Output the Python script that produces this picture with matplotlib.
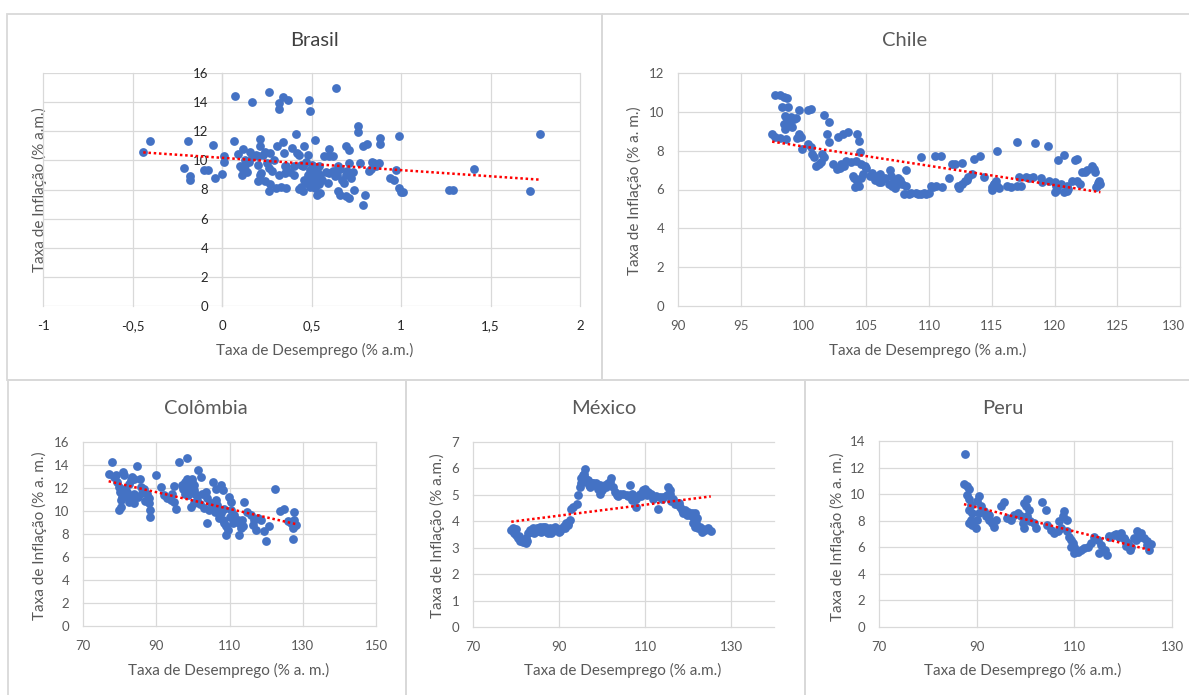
import numpy as np
import matplotlib
matplotlib.use('Agg')
from matplotlib import pyplot as plt
from matplotlib import transforms
from matplotlib.patches import Rectangle
from matplotlib.ticker import FuncFormatter

plt.rcParams['font.family'] = ['Lato', 'DejaVu Sans']

W, H = 1189, 695

# (desemprego, inflacao)
brasil = [(-0.44, 10.57), (-0.40, 11.3), (-0.21, 9.47), (-0.19, 11.3), (-0.18, 8.9), (-0.18, 8.67),
          (-0.10, 9.36), (-0.08, 9.36), (-0.05, 11.03), (-0.04, 8.78), (0.00, 9.08), (0.01, 10.28),
          (0.01, 9.86), (0.065, 11.3), (0.07, 14.45), (0.09, 10.44), (0.11, 9.47), (0.11, 9.0),
          (0.12, 10.8), (0.13, 10.05), (0.13, 9.7), (0.13, 9.36), (0.155, 10.6), (0.17, 14.0),
          (0.19, 10.4), (0.20, 10.3), (0.20, 9.7), (0.21, 11.5), (0.21, 10.96), (0.21, 9.0),
          (0.22, 9.1), (0.20, 8.6), (0.24, 8.55), (0.24, 10.6), (0.26, 14.7), (0.26, 9.47),
          (0.26, 7.87), (0.27, 10.5), (0.30, 8.1), (0.31, 10.96), (0.32, 13.95), (0.32, 13.53),
          (0.32, 9.0), (0.33, 8.2), (0.34, 11.24), (0.34, 14.35), (0.345, 10.5), (0.35, 9.63),
          (0.35, 9.13), (0.37, 14.17), (0.39, 10.85), (0.40, 8.97), (0.415, 11.83), (0.42, 10.5),
          (0.43, 10.4), (0.43, 8.03), (0.45, 9.59), (0.45, 7.87), (0.46, 10.96), (0.46, 8.67),
          (0.47, 8.44), (0.48, 10.4), (0.485, 14.17), (0.49, 13.37), (0.49, 9.36), (0.50, 9.1),
          (0.50, 8.67), (0.51, 8.3), (0.49, 8.2), (0.51, 9.0), (0.52, 8.5), (0.53, 8.8),
          (0.52, 11.42), (0.53, 7.64), (0.55, 7.75), (0.54, 9.59), (0.56, 8.67), (0.57, 10.28),
          (0.59, 8.44), (0.60, 10.78), (0.60, 10.28), (0.60, 9.13), (0.635, 14.98), (0.64, 9.0),
          (0.65, 9.59), (0.65, 7.87), (0.66, 7.64), (0.67, 8.67), (0.68, 8.44), (0.69, 7.52),
          (0.69, 10.96), (0.695, 9.0), (0.70, 9.25), (0.71, 10.73), (0.71, 7.4), (0.71, 9.8),
          (0.74, 8.0), (0.76, 12.34), (0.76, 11.93), (0.77, 9.8), (0.79, 11.0), (0.79, 6.95),
          (0.80, 7.64), (0.81, 11.15), (0.82, 9.25), (0.85, 9.8), (0.86, 9.59), (0.875, 9.8),
          (0.88, 11.54), (0.88, 11.15), (0.94, 8.78), (0.96, 8.67), (0.97, 9.36), (0.99, 11.65),
          (0.99, 8.1), (1.00, 7.8), (1.01, 7.8), (1.27, 8.0), (1.29, 8.0), (1.41, 9.43),
          (1.72, 7.9), (1.775, 11.83), (0.15, 9.9), (0.17, 10.2), (0.23, 10.4), (0.25, 9.8),
          (0.28, 9.3), (0.29, 10.0), (0.36, 9.6), (0.38, 9.2), (0.44, 9.7), (0.47, 9.9),
          (0.50, 9.7), (0.53, 9.3), (0.55, 9.0), (0.58, 9.2), (0.62, 9.3), (0.63, 8.9),
          (0.66, 9.4), (0.72, 8.8), (0.73, 9.2), (0.62, 10.3), (0.10, 9.6), (0.14, 9.2),
          (0.27, 8.4), (0.36, 8.1), (0.40, 9.6), (0.44, 8.2), (0.48, 9.0), (0.52, 8.1),
          (0.54, 8.4), (0.83, 9.4), (0.84, 9.9)]

chile = [(97.75, 10.87), (98.15, 10.87), (98.43, 10.78), (98.7, 10.7), (98.3, 10.27), (98.8, 10.27),
         (99.64, 10.1), (100.37, 10.1), (100.6, 10.15), (98.56, 9.8), (98.97, 9.72), (99.24, 9.63),
         (98.7, 9.55), (98.43, 9.37), (98.97, 9.29), (98.56, 9.12), (99.1, 9.2), (99.37, 9.68),
         (97.5, 8.86), (97.75, 8.69), (98.15, 8.64), (98.64, 8.6), (99.64, 8.86), (99.78, 8.69),
         (99.5, 8.64), (99.9, 8.08), (100.37, 8.34), (100.6, 8.17), (101.67, 9.85), (102.07, 9.46),
         (101.9, 8.86), (102.07, 8.43), (100.7, 7.83), (100.85, 7.66), (101.5, 7.83), (101.6, 7.66),
         (101.0, 7.23), (101.26, 7.31), (101.4, 7.4), (102.34, 7.31), (102.7, 7.06), (102.75, 8.69),
         (103.15, 8.86), (103.56, 8.94), (104.23, 8.86), (104.4, 8.52), (104.5, 7.91), (103.0, 7.31),
         (103.4, 7.48), (103.8, 7.4), (104.2, 7.45), (104.6, 7.31), (104.9, 7.23), (103.96, 6.71),
         (104.23, 6.45), (104.1, 6.11), (104.77, 6.8), (105.45, 6.83), (105.85, 6.71), (106.1, 6.8),
         (106.25, 6.54), (106.0, 6.37), (106.93, 7.0), (107.0, 6.71), (107.2, 6.45), (107.07, 6.2),
         (107.55, 6.28), (107.87, 6.28), (108.14, 7.0), (108.0, 5.77), (108.41, 5.77), (108.95, 5.8),
         (109.35, 5.77), (109.76, 5.77), (109.38, 7.66), (110.17, 6.2), (110.57, 6.2), (110.5, 7.7),
         (110.98, 7.7), (111.6, 6.57), (111.8, 7.31), (112.06, 7.31), (112.6, 7.37), (112.33, 6.2),
         (112.6, 6.28), (112.87, 6.45), (113.14, 6.63), (113.4, 6.8), (113.6, 7.57), (114.03, 7.74),
         (114.35, 6.66), (115.38, 8.0), (115.03, 6.11), (115.16, 6.28), (115.43, 6.2), (115.3, 6.45),
         (116.24, 6.16), (117.0, 6.16), (117.05, 8.46), (117.19, 6.66), (117.7, 6.63), (118.27, 6.66),
         (118.94, 6.57), (118.45, 8.38), (119.48, 8.26), (119.6, 6.45), (120.0, 6.37), (120.15, 6.2),
         (120.0, 5.85), (120.24, 7.52), (120.78, 7.79), (120.78, 5.85), (120.96, 5.94), (121.1, 6.03),
         (121.64, 7.52), (121.78, 7.57), (121.37, 6.45), (121.78, 6.45), (122.18, 6.88), (122.58, 7.0),
         (122.99, 7.23), (123.26, 6.88), (123.12, 7.06), (123.4, 6.2), (123.53, 6.45), (123.66, 6.28),
         (123.3, 6.14), (104.0, 6.6), (105.0, 7.1), (106.0, 6.6), (107.5, 6.6), (115.0, 6.0),
         (103.2, 7.2), (102.9, 7.1), (105.3, 6.7), (105.7, 6.5), (106.2, 6.4), (106.5, 6.6),
         (106.8, 6.3), (107.3, 6.1), (107.7, 6.5), (108.2, 6.2), (104.4, 6.2), (104.6, 6.6),
         (115.2, 6.3), (115.6, 6.1), (117.3, 6.2), (120.2, 6.0), (120.5, 6.3), (121.0, 6.2),
         (122.0, 6.3), (119.0, 6.4), (112.4, 6.1), (113.0, 6.5), (108.6, 5.8), (109.1, 5.75),
         (109.6, 5.8), (110.0, 5.8), (110.3, 6.15), (111.0, 6.15), (116.5, 6.15), (118.0, 6.6),
         (123.5, 6.35), (122.4, 6.9)]

colombia = [(77.0, 13.23), (77.9, 14.29), (78.4, 12.94), (78.9, 13.09), (79.3, 12.51), (79.8, 12.09),
            (80.2, 11.66), (80.7, 11.23), (79.8, 10.09), (80.4, 10.37), (80.9, 13.37), (81.1, 13.09),
            (81.6, 11.94), (82.1, 11.66), (82.5, 12.37), (83.0, 12.66), (83.4, 12.94), (83.0, 10.94),
            (83.4, 11.09), (83.9, 11.51), (83.9, 12.8), (84.8, 13.94), (85.5, 12.8), (85.7, 12.09),
            (86.6, 11.94), (87.5, 11.51), (88.0, 11.09), (88.0, 10.66), (88.4, 10.09), (88.4, 9.51),
            (89.8, 13.14), (91.2, 12.09), (92.1, 11.37), (93.0, 11.09), (93.9, 10.94), (94.8, 10.8),
            (95.3, 10.14), (94.8, 12.14), (94.4, 11.51), (96.2, 14.23), (98.5, 14.6), (97.0, 12.3),
            (97.9, 12.5), (98.8, 12.6), (99.7, 12.5), (100.2, 12.3), (97.4, 11.9), (98.3, 12.1),
            (99.2, 11.9), (100.2, 11.8), (97.9, 11.5), (98.8, 11.4), (99.7, 11.7), (100.6, 11.5),
            (98.3, 12.8), (99.7, 12.8), (99.4, 10.37), (100.3, 10.66), (101.4, 13.57), (102.1, 12.94),
            (102.6, 11.51), (103.5, 11.66), (103.97, 11.09), (104.9, 10.66), (104.4, 10.09), (105.6, 12.51),
            (106.3, 11.94), (107.6, 12.23), (108.1, 11.8), (106.3, 10.94), (106.7, 10.51), (107.2, 10.09),
            (107.6, 9.8), (107.2, 9.37), (108.1, 9.23), (108.5, 8.94), (109.0, 8.66), (109.5, 8.37),
            (109.0, 7.94), (109.9, 11.23), (110.4, 10.8), (110.4, 10.09), (111.3, 9.66), (112.2, 9.23),
            (112.6, 8.94), (113.1, 8.51), (113.6, 8.66), (112.6, 7.94), (114.0, 10.8), (114.9, 9.94),
            (115.8, 9.66), (116.8, 9.23), (116.3, 8.8), (117.2, 8.37), (117.7, 9.37), (118.6, 9.23),
            (119.5, 8.23), (120.1, 7.37), (120.9, 8.71), (122.5, 11.89), (123.9, 10.03), (125.0, 10.14),
            (125.9, 9.09), (126.8, 8.94), (127.7, 9.23), (127.5, 9.94), (127.3, 8.51), (127.3, 7.57),
            (128.2, 8.8), (101.0, 11.0), (102.0, 10.6), (103.0, 10.3), (105.5, 10.4), (106.0, 9.9),
            (103.9, 9.0), (111.0, 9.0), (113.5, 9.2), (110.0, 9.5), (108.5, 10.2), (80.5, 11.0),
            (81.5, 11.4), (82.5, 10.8), (84.0, 10.7), (85.0, 11.2), (86.0, 11.6), (87.0, 10.9),
            (83.5, 11.3), (82.0, 11.2)]

mexico = [(78.9, 3.67), (79.3, 3.73), (79.7, 3.6), (80.1, 3.48), (80.5, 3.35), (81.0, 3.27),
          (81.6, 3.2), (82.3, 3.17), (82.4, 3.35), (82.8, 3.54), (83.2, 3.67), (84.0, 3.73),
          (84.8, 3.76), (85.5, 3.79), (85.9, 3.6), (86.3, 3.79), (87.1, 3.6), (87.9, 3.67),
          (88.2, 3.54), (88.8, 3.76), (89.4, 3.67), (90.0, 3.6), (90.6, 3.73), (91.1, 3.83),
          (91.7, 3.92), (92.5, 4.05), (92.9, 4.48), (93.3, 4.55), (94.1, 4.67), (94.5, 4.99),
          (94.8, 5.3), (95.2, 5.62), (95.2, 5.43), (95.6, 5.74), (96.0, 5.99), (96.0, 5.62),
          (96.4, 5.49), (97.0, 5.36), (97.6, 5.43), (98.3, 5.36), (98.7, 5.43), (99.1, 5.24),
          (99.5, 5.05), (99.5, 5.36), (99.9, 5.3), (100.7, 5.36), (101.4, 5.43), (102.2, 5.62),
          (101.8, 5.49), (102.6, 5.3), (103.0, 5.11), (103.4, 4.99), (104.2, 5.05), (104.9, 5.05),
          (105.7, 4.99), (106.5, 5.36), (106.9, 4.8), (107.3, 4.99), (107.9, 4.55), (108.0, 4.86),
          (108.8, 5.05), (109.6, 5.17), (110.0, 5.24), (110.4, 4.99), (110.8, 5.11), (111.5, 5.05),
          (111.9, 4.86), (113.1, 4.48), (113.5, 4.92), (114.3, 4.92), (115.0, 4.99), (115.4, 5.3),
          (115.7, 5.17), (115.8, 5.05), (116.4, 4.86), (117.0, 4.67), (117.5, 4.67), (118.1, 4.55),
          (118.5, 4.42), (118.9, 4.3), (119.3, 4.42), (119.7, 4.23), (120.1, 4.36), (120.5, 4.23),
          (120.9, 4.3), (121.2, 4.17), (121.6, 4.3), (122.0, 4.11), (121.2, 3.92), (121.6, 3.79),
          (122.4, 3.73), (123.2, 3.6), (124.0, 3.67), (124.7, 3.73), (125.3, 3.63), (97.2, 5.3),
          (98.0, 5.45), (99.0, 5.35), (100.0, 5.2), (101.0, 5.3), (103.8, 4.95), (106.0, 4.95),
          (107.0, 5.05), (109.0, 4.95), (112.5, 4.95), (114.0, 4.85), (116.0, 4.75), (96.8, 5.55),
          (95.8, 5.8), (117.8, 4.7), (79.5, 3.55), (80.0, 3.7), (80.8, 3.45), (81.3, 3.3),
          (81.9, 3.25), (82.6, 3.25), (83.5, 3.6), (84.4, 3.7), (85.1, 3.65), (86.0, 3.72),
          (86.7, 3.68), (87.5, 3.55), (88.5, 3.62), (89.0, 3.78), (89.8, 3.72), (90.3, 3.65),
          (91.4, 3.75), (92.0, 3.85), (92.2, 3.95), (84.2, 3.55), (86.8, 3.8), (88.0, 3.75),
          (122.8, 3.8), (123.6, 3.7), (121.9, 3.95)]

peru = [(87.7, 13.0), (87.4, 10.73), (88.1, 10.6), (88.4, 10.35), (88.1, 9.97), (88.4, 9.6),
        (88.8, 9.22), (88.4, 8.84), (89.1, 8.58), (88.8, 8.08), (88.4, 7.82), (89.1, 7.7),
        (89.8, 7.44), (90.1, 8.08), (90.5, 8.58), (90.5, 9.85), (90.1, 9.47), (90.8, 9.09),
        (91.5, 8.71), (91.85, 8.33), (92.5, 8.08), (93.2, 7.82), (93.6, 7.52), (92.5, 8.46),
        (93.9, 8.08), (94.9, 9.09), (95.5, 9.39), (96.3, 8.2), (97.0, 8.08), (97.7, 8.46),
        (98.4, 8.58), (99.0, 8.33), (99.4, 7.82), (99.7, 7.44), (99.7, 9.34), (100.4, 9.6),
        (100.1, 9.09), (100.75, 8.84), (100.4, 8.33), (100.96, 7.95), (101.8, 7.82), (102.1, 7.44),
        (103.3, 9.39), (104.2, 8.84), (104.5, 7.7), (105.2, 7.32), (105.9, 7.06), (106.6, 7.19),
        (107.3, 7.44), (106.9, 7.95), (107.6, 8.33), (107.9, 8.71), (108.6, 8.08), (108.6, 7.19),
        (109.0, 6.81), (109.3, 6.56), (109.7, 6.3), (110.0, 6.05), (110.4, 5.8), (110.75, 5.67),
        (109.3, 6.05), (110.0, 5.54), (111.4, 5.8), (112.05, 5.92), (112.7, 6.05), (113.4, 6.3),
        (114.0, 6.81), (114.8, 6.56), (115.5, 6.18), (116.2, 5.8), (116.6, 5.42), (117.2, 6.81),
        (118.2, 6.94), (119.2, 6.81), (120.3, 6.56), (121.0, 6.3), (121.6, 6.05), (122.7, 6.56),
        (123.4, 6.81), (117.1, 6.87), (118.5, 6.99), (119.5, 7.07), (120.2, 6.69), (120.5, 6.07),
        (121.5, 5.81), (122.2, 6.69), (122.9, 7.19), (123.6, 7.07), (124.2, 6.69), (124.9, 6.19),
        (125.3, 5.81), (125.6, 6.24), (124.9, 6.44), (115.0, 5.6), (116.0, 5.7)]

fig = plt.figure(figsize=(W / 100, H / 100), dpi=100)

# background layer in pixel coords: panel frames and texts
bg = fig.add_axes([0, 0, 1, 1])
bg.set_xlim(0, W)
bg.set_ylim(H, 0)
bg.axis('off')
for x0, y0, x1, y1 in [(7, 14, 602, 380), (602, 14, 1192, 380),
                       (8, 380, 406, 700), (406, 380, 805, 700), (805, 380, 1192, 700)]:
    bg.add_patch(Rectangle((x0, y0), x1 - x0, y1 - y0, fill=False, ec='#D9D9D9', lw=1.3))

grey = '#595959'
titles = [('Brasil', 315, 40, '#404040'), ('Chile', 905, 40, grey), ('Colômbia', 206, 409, grey),
          ('México', 604, 409, grey), ('Peru', 1003, 409, grey)]
for t, x, y, c in titles:
    bg.text(x, y, t, ha='center', va='center', fontsize=14.5, color=c)

xlabels = [('Taxa de Desemprego (% a.m.)', 315, 350), ('Taxa de Desemprego (% a.m.)', 928, 350),
           ('Taxa de Desemprego (% a. m.)', 229, 670), ('Taxa de Desemprego (% a.m.)', 623, 670),
           ('Taxa de Desemprego (% a.m.)', 1023, 670)]
for t, x, y in xlabels:
    bg.text(x, y, t, ha='center', va='center', fontsize=11, color=grey)

ylabels = [('Taxa de Inflação (% a.m.)', 39, 190), ('Taxa de Inflação (% a. m.)', 634, 191),
           ('Taxa de Inflação (% a. m.)', 39, 536), ('Taxa de Inflação (% a.m.)', 437, 536),
           ('Taxa de Inflação (% a. m.)', 837, 537)]
for t, x, y in ylabels:
    bg.text(x, y, t, ha='center', va='center', rotation=90, fontsize=11, color=grey)


def px_axes(x0, y0, x1, y1):
    return fig.add_axes([x0 / W, 1 - y1 / H, (x1 - x0) / W, (y1 - y0) / H])


def draw(ax, pts, xlim, xticks, ylim, yticks, tick_color=grey):
    x, y = np.array(pts).T
    ax.scatter(x, y, s=40, color='#4472C4', linewidths=0, zorder=3, clip_on=False)
    k, b = np.polyfit(x, y, 1)
    xx = np.array([x.min(), x.max()])
    ax.plot(xx, k * xx + b, color='#FF0000', lw=1.8, ls=(0, (1, 1.1)), zorder=4)
    ax.set_xlim(xlim)
    ax.set_ylim(ylim)
    ax.set_xticks(xticks)
    ax.set_yticks(yticks)
    ax.grid(True, color='#D9D9D9', lw=0.9)
    ax.set_axisbelow(True)
    for ln in ax.get_xgridlines() + ax.get_ygridlines():
        ln.set_clip_on(False)
    for s in ax.spines.values():
        s.set_visible(False)
    ax.tick_params(length=0, labelsize=9.5, colors=tick_color, pad=10)
    ax.patch.set_alpha(0)


ax1 = px_axes(43, 73, 580, 306)
draw(ax1, brasil, (-1, 2), np.arange(-1, 2.01, 0.5), (0, 16), range(0, 17, 2), tick_color='#262626')
ax1.spines['left'].set_visible(True)
ax1.spines['left'].set_position(('data', 0))
ax1.spines['left'].set_color('#D9D9D9')
ax1.spines['left'].set_linewidth(0.9)
ax1.xaxis.set_major_formatter(FuncFormatter(lambda v, p: ('%g' % v).replace('.', ',')))

ax2 = px_axes(678, 73, 1180, 306)
draw(ax2, chile, (90, 130), range(90, 131, 5), (0, 12), range(0, 13, 2))
# last tick label sits on the image edge; nudge it left a little
last = ax2.get_xticklabels()[-1]
last.set_transform(last.get_transform() + transforms.ScaledTranslation(-0.07, 0, fig.dpi_scale_trans))

ax3 = px_axes(83, 442, 376, 626)
draw(ax3, colombia, (70, 150), range(70, 151, 20), (0, 16), range(0, 17, 2))

ax4 = px_axes(473, 442, 774, 627)
draw(ax4, mexico, (70, 140), range(70, 131, 20), (0, 7), range(0, 8, 1))

ax5 = px_axes(879, 441, 1172, 627)
draw(ax5, peru, (70, 130), range(70, 131, 20), (0, 14), range(0, 15, 2))

fig.savefig('out.png', dpi=100)
